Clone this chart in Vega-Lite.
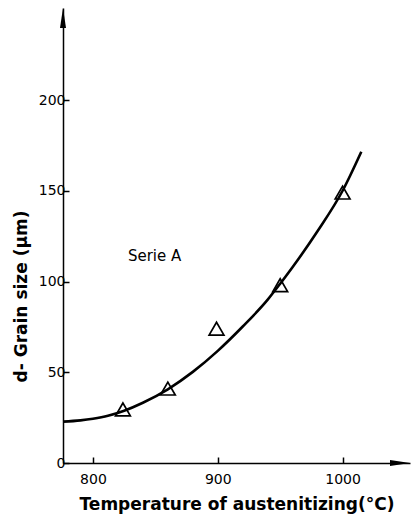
{
  "$schema": "https://vega.github.io/schema/vega-lite/v6.json",
  "width": 347,
  "height": 455,
  "autosize": "none",
  "padding": {"left": 63, "top": 8, "right": 1, "bottom": 58},
  "background": "white",
  "config": {
    "view": {"stroke": null},
    "font": "DejaVu Sans",
    "axis": {"grid": false, "domainColor": "black", "tickColor": "black", "labelColor": "black", "titleColor": "black", "domainWidth": 1.5, "tickWidth": 1.5}
  },
  "datasets": {
    "curve": [
      {"T": 776, "d": 22.8}, {"T": 790, "d": 23.5}, {"T": 800, "d": 24.4}, {"T": 812, "d": 26.0},
      {"T": 825, "d": 28.8}, {"T": 840, "d": 33.2}, {"T": 860, "d": 40.6}, {"T": 880, "d": 50.2},
      {"T": 900, "d": 61.8}, {"T": 920, "d": 75.2}, {"T": 940, "d": 90.0}, {"T": 950, "d": 98.8},
      {"T": 960, "d": 108.0}, {"T": 980, "d": 127.8}, {"T": 1000, "d": 150.0}, {"T": 1015, "d": 171.5}
    ],
    "measured": [
      {"T": 824, "d": 29.5}, {"T": 860, "d": 41}, {"T": 899, "d": 74}, {"T": 950, "d": 98}, {"T": 1000, "d": 149}
    ],
    "label": [{"T": 828, "d": 114, "text": "Serie A"}],
    "arrows": [
      {"T": 1046, "d": 0, "shape": "M1,0L-1,0.3L-1,-0.3Z"},
      {"T": 776, "d": 245.2, "shape": "M0,-1L0.3,1L-0.3,1Z"}
    ]
  },
  "encoding": {
    "x": {"field": "T", "type": "quantitative", "scale": {"domain": [776, 1054], "nice": false, "zero": false},
      "axis": {"title": "Temperature of austenitizing(°C)", "values": [800, 900, 1000], "format": "d", "tickSize": -6, "labelPadding": 15,
        "labelFontSize": 14, "titleFontSize": 17, "titleFontWeight": "bold", "titlePadding": 10}},
    "y": {"field": "d", "type": "quantitative", "scale": {"domain": [0, 250.7], "nice": false},
      "axis": {"title": "d- Grain size (μm)", "values": [0, 50, 100, 150, 200], "format": "d", "tickSize": -6, "labelPadding": 4,
        "labelFontSize": 14, "titleFontSize": 17, "titleFontWeight": "bold", "titlePadding": 8, "titleY": 288}}
  },
  "layer": [
    {"data": {"name": "curve"}, "mark": {"type": "line", "color": "black", "strokeWidth": 2.6, "interpolate": "monotone"}},
    {"data": {"name": "measured"}, "mark": {"type": "point", "shape": "triangle-up", "size": 220, "filled": false, "color": "black", "strokeWidth": 1.7, "opacity": 1}},
    {"data": {"name": "label"}, "mark": {"type": "text", "align": "left", "baseline": "middle", "fontSize": 15, "fontWeight": 500, "color": "black"},
      "encoding": {"text": {"field": "text"}}},
    {"data": {"name": "arrows"}, "mark": {"type": "point", "filled": true, "color": "black", "size": 400, "opacity": 1, "strokeWidth": 0},
      "encoding": {"shape": {"field": "shape", "type": "nominal", "scale": null}}}
  ]
}
